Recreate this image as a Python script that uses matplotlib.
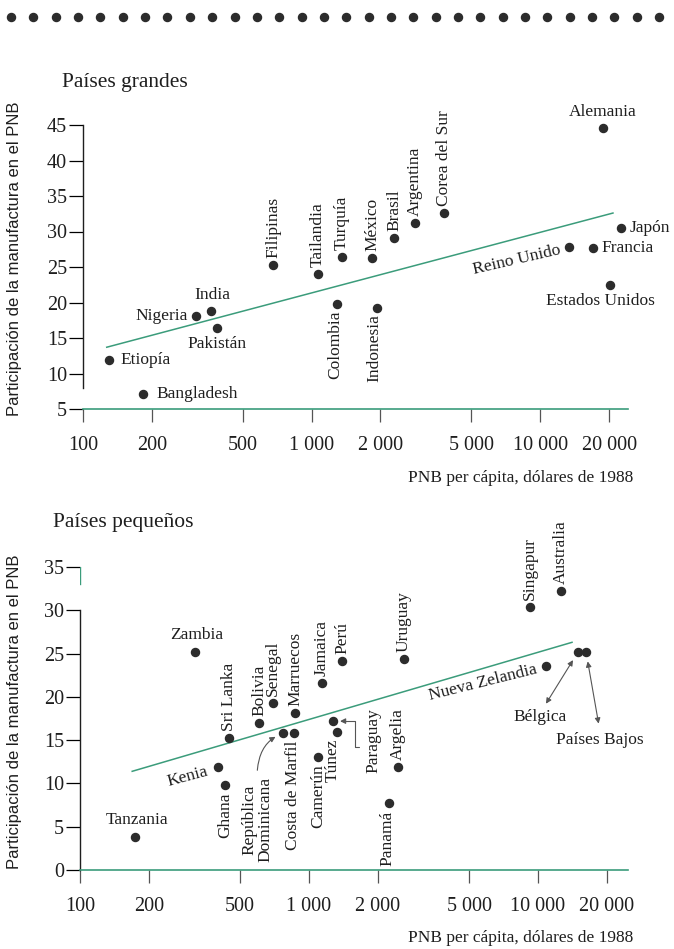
import numpy as np
import matplotlib
matplotlib.use('Agg')
import matplotlib.pyplot as plt
from matplotlib.lines import Line2D
from matplotlib.ticker import FixedLocator, FixedFormatter, NullLocator

plt.rcParams['font.family'] = ['Liberation Serif', 'DejaVu Serif']

# ---- paises grandes
grandes = ['Etiopía', 'Bangladesh', 'Nigeria', 'India', 'Pakistán', 'Filipinas',
           'Tailandia', 'Turquía', 'México', 'Brasil', 'Argentina', 'Corea del Sur',
           'Colombia', 'Indonesia', 'Reino Unido', 'Francia', 'Alemania', 'Japón',
           'Estados Unidos']
pnb_grandes = [130, 183, 312, 363, 386, 678, 1067, 1358, 1837, 2293, 2832, 3795,
               1291, 1932, 13360, 17020, 18830, 22560, 20200]
manuf_grandes = [11.9, 7.1, 18.1, 18.8, 16.4, 25.3, 24.0, 26.4, 26.3, 29.1, 31.2, 32.6,
                 19.8, 19.2, 27.8, 27.7, 44.6, 30.5, 22.5]
tend_grandes_x = [127, 20800]
tend_grandes_y = [13.7, 32.6]

# ---- paises pequenos
pequenos = ['Tanzania', 'Zambia', 'Kenia', 'Ghana', 'Sri Lanka', 'Bolivia', 'Senegal',
            'Marruecos', 'República\nDominicana', 'Costa de Marfil', 'Camerún', 'Jamaica',
            'Perú', 'Túnez', 'Paraguay', 'Argelia', 'Panamá', 'Uruguay', 'Singapur',
            'Australia', 'Nueva Zelandia', 'Bélgica', 'Países Bajos']
pnb_pequenos = [174, 318, 400, 430, 447, 605, 696, 869, 770, 860, 1095, 1140,
                1393, 1325, 1273, 2448, 2236, 2600, 9230, 12600, 10840, 14960, 16200]
manuf_pequenos = [3.8, 25.2, 11.9, 9.8, 15.2, 17.0, 19.3, 18.1, 15.8, 15.8, 13.0, 21.6,
                  24.1, 15.9, 17.2, 11.9, 7.7, 24.4, 30.4, 32.2, 23.6, 25.2, 25.2]
tend_pequenos_x = [169, 14070]
tend_pequenos_y = [11.4, 26.3]

xticks = [100, 200, 500, 1000, 2000, 5000, 10000, 20000]
xtick_labels = ['100', '200', '500', '1 000', '2 000', '5 000', '10 000', '20 000']

verde = '#3b9c7b'
negro = '#1e1e1e'
punto = '#2c2c2c'

# label placement: dx, dy (pixels), ha, va, rotation
VA = (0, 7, 'center', 'bottom', 90)
VB = (0, -7, 'center', 'top', 90)
pos_grandes = {
    'Etiopía': (11, 0, 'left', 'center', 0),
    'Bangladesh': (13, 0, 'left', 'center', 0),
    'Nigeria': (-8, 0, 'right', 'center', 0),
    'India': (1, 8, 'center', 'bottom', 0),
    'Pakistán': (0, -8, 'center', 'top', 0),
    'Filipinas': VA, 'Tailandia': VA, 'Turquía': VA, 'México': VA,
    'Brasil': VA, 'Argentina': VA, 'Corea del Sur': VA,
    'Colombia': (-2, -7, 'center', 'top', 90),
    'Indonesia': (-3, -6, 'center', 'top', 90),
    'Reino Unido': (-9, -3, 'right', 'center', 13),
    'Francia': (8, 0, 'left', 'center', 0),
    'Alemania': (0, 8, 'center', 'bottom', 0),
    'Japón': (9, 0, 'left', 'center', 0),
    'Estados Unidos': (-10, -8, 'center', 'top', 0),
}
pos_pequenos = {
    'Tanzania': (2, 9, 'center', 'bottom', 0),
    'Zambia': (2, 9, 'center', 'bottom', 0),
    'Kenia': (-10, -4, 'right', 'center', 15),
    'Ghana': VB, 'Sri Lanka': VA, 'Bolivia': VA, 'Senegal': VA, 'Marruecos': VA,
    'Costa de Marfil': (-1, -7, 'center', 'top', 90),
    'Camerún': VB, 'Jamaica': VA, 'Perú': VA,
    'Túnez': (-4, -6, 'center', 'top', 90),
    'Argelia': VA, 'Panamá': (-2, -7, 'center', 'top', 90),
    'Uruguay': VA, 'Singapur': VA, 'Australia': VA,
    'Nueva Zelandia': (-9, -4, 'right', 'center', 14),
}


def preparar(ax, xmax, ylim, yticks, ycolors, bounds):
    ax.set_xscale('log')
    ax.set_xlim(100, xmax)
    ax.set_ylim(*ylim)
    ax.patch.set_alpha(0)
    ax.spines['top'].set_visible(False)
    ax.spines['right'].set_visible(False)
    ax.spines['bottom'].set_color(verde)
    ax.spines['bottom'].set_linewidth(1.2)
    ax.spines['left'].set_color(negro)
    ax.spines['left'].set_linewidth(1.0)
    ax.spines['left'].set_bounds(*bounds)
    ax.xaxis.set_major_locator(FixedLocator(xticks))
    ax.xaxis.set_major_formatter(FixedFormatter(xtick_labels))
    ax.xaxis.set_minor_locator(NullLocator())
    ax.tick_params(axis='x', length=9.5, width=0.9, color='#555555', pad=10,
                   labelsize=14.5, labelcolor=negro)
    ax.set_yticks(yticks)
    ax.tick_params(axis='y', length=10, width=0.9, pad=1.5, labelsize=14.5,
                   labelcolor=negro)
    for t, c in zip(ax.yaxis.get_major_ticks(), ycolors):
        t.tick1line.set_color(c)


def puntos(ax, nombres, xs, ys, posiciones):
    ax.plot(xs, ys, 'o', ms=5.8, color=punto, clip_on=False, zorder=3)
    for n, x, y in zip(nombres, xs, ys):
        if n not in posiciones:
            continue
        dx, dy, ha, va, rot = posiciones[n]
        ax.annotate(n, (x, y), xytext=(dx, dy), textcoords='offset pixels',
                    ha=ha, va=va, rotation=rot, rotation_mode='anchor' if rot not in (0, 90) else 'default',
                    fontsize=12.5, color=negro)


fig = plt.figure(figsize=(6.74, 9.49), dpi=100)

# fila de puntos de cabecera
xs_cab = (11 + 22.35 * np.arange(30)) / 674
fig.add_artist(Line2D(xs_cab, np.full(30, 1 - 17 / 949), transform=fig.transFigure,
                      ls='none', marker='o', ms=5.8, color=punto))

# ---- panel superior
ax1 = fig.add_axes([83 / 674, 1 - 409 / 949, 545 / 674, 284 / 949])
preparar(ax1, 24200, (5, 45), [5, 10, 15, 20, 25, 30, 35, 40, 45],
         [verde, negro, verde, verde, '#555555', verde, verde, negro, negro], (8, 45))
ax1.plot(tend_grandes_x, tend_grandes_y, color=verde, lw=1.1)
puntos(ax1, grandes, pnb_grandes, manuf_grandes, pos_grandes)

# ---- panel inferior
ax2 = fig.add_axes([80 / 674, 79 / 949, 548 / 674, 303 / 949])
preparar(ax2, 24700, (0, 35), [0, 5, 10, 15, 20, 25, 30, 35],
         [verde, negro, verde, negro, verde, verde, negro, verde], (0, 30))
ax2.axvline(100, ymin=33 / 35, ymax=1, color=verde, lw=1.0)
ax2.plot(tend_pequenos_x, tend_pequenos_y, color=verde, lw=1.1)
puntos(ax2, pequenos, pnb_pequenos, manuf_pequenos, pos_pequenos)

flecha = dict(color='#555555', lw=0.8, mutation_scale=8)
i = pequenos.index('República\nDominicana')
ax2.annotate(pequenos[i], (pnb_pequenos[i], manuf_pequenos[i]), xytext=(-26, -44),
             textcoords='offset pixels', rotation=90, ha='center', va='top',
             multialignment='center', fontsize=12.5, color=negro, linespacing=1.0,
             arrowprops=dict(arrowstyle='-|>', relpos=(0.5, 1), shrinkA=3, shrinkB=6,
                             connectionstyle='angle3,angleA=90,angleB=20', **flecha))
i = pequenos.index('Paraguay')
ax2.annotate(pequenos[i], (pnb_pequenos[i], manuf_pequenos[i]), xytext=(40, 13),
             textcoords='offset pixels', rotation=90, ha='center', va='top',
             fontsize=12.5, color=negro,
             arrowprops=dict(arrowstyle='-|>', relpos=(0, 0.4), shrinkA=2, shrinkB=5,
                             connectionstyle='bar,angle=90,fraction=-0.25', **flecha))
i = pequenos.index('Bélgica')
ax2.annotate(pequenos[i], (pnb_pequenos[i], manuf_pequenos[i]), xytext=(-38, -65),
             textcoords='offset pixels', ha='center', va='center', fontsize=12.5,
             color=negro,
             arrowprops=dict(arrowstyle='<|-|>', relpos=(0.55, 1), shrinkA=2, shrinkB=7,
                             **flecha))
i = pequenos.index('Países Bajos')
ax2.annotate(pequenos[i], (pnb_pequenos[i], manuf_pequenos[i]), xytext=(14, -88),
             textcoords='offset pixels', ha='center', va='center', fontsize=12.5,
             color=negro,
             arrowprops=dict(arrowstyle='<|-|>', relpos=(0.5, 1), shrinkA=4, shrinkB=7,
                             **flecha))

# textos de la figura
fig.text(62 / 674, 1 - 82 / 949, 'Países grandes', fontsize=15.5, va='center', color=negro)
fig.text(53 / 674, 1 - 522 / 949, 'Países pequeños', fontsize=15.5, va='center', color=negro)
ylab = 'Participación de la manufactura en el PNB'
fig.text(15 / 674, 1 - 259 / 949, ylab, rotation=90, ha='center', va='center',
         family=['Liberation Sans', 'DejaVu Sans'], fontsize=12, color=negro)
fig.text(15 / 674, 1 - 712 / 949, ylab, rotation=90, ha='center', va='center',
         family=['Liberation Sans', 'DejaVu Sans'], fontsize=12, color=negro)
xlab = 'PNB per cápita, dólares de 1988'
fig.text(633 / 674, 1 - 478 / 949, xlab, ha='right', va='center', fontsize=12.5, color=negro)
fig.text(633 / 674, 1 - 938 / 949, xlab, ha='right', va='center', fontsize=12.5, color=negro)

fig.savefig('out.png', dpi=100)
